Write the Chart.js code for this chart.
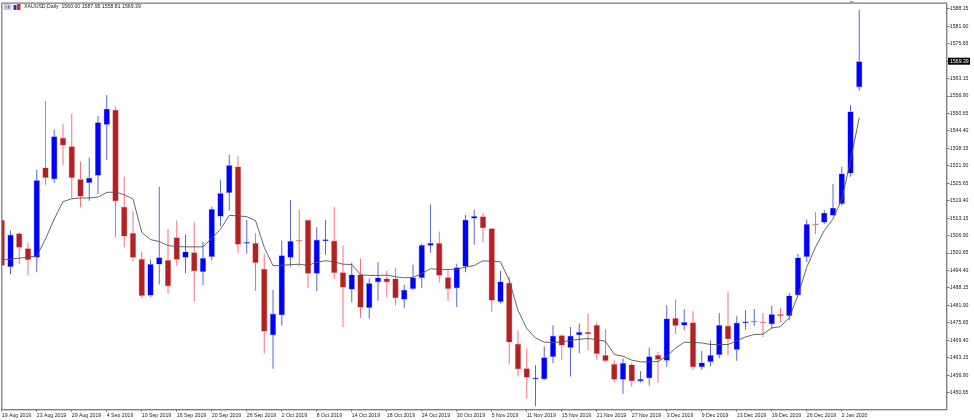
<!DOCTYPE html>
<html>

<head>
  <title>XAUUSD Daily</title>
  <script src="https://cdnjs.cloudflare.com/ajax/libs/Chart.js/4.4.1/chart.umd.min.js"></script>
  <style>
    body { margin: 0; background: #fff; }
    canvas { display: block; }
  </style>
</head>

<body>
  <canvas id="chart" width="974" height="420"></canvas>

  <script>
    // Daily candles, one per trading day from 19 Aug 2019
    const opens = [
      1512.51, 1495.58, 1507.72, 1502.37, 1498.94, 1531.29, 1527.01, 1542.01, 1538.94, 1527.15,
      1525.72, 1528.33, 1546.54, 1552.01, 1517.26, 1507.87, 1498.58, 1485.37, 1496.54, 1498.22,
      1506.29, 1498.94, 1500.94, 1493.79, 1499.15, 1513.69, 1522.15, 1531.65, 1503.94, 1504.29,
      1495.01, 1471.19, 1478.33, 1498.94, 1505.22, 1512.51, 1493.22, 1504.87, 1505.12, 1493.79,
      1487.51, 1492.97, 1480.94, 1490.12, 1491.54, 1491.54, 1483.94, 1487.72, 1491.65, 1503.22,
      1504.29, 1492.01, 1487.97, 1495.72, 1512.97, 1513.79, 1509.51, 1483.08, 1490.01, 1468.22,
      1459.40, 1455.37, 1455.37, 1463.33, 1471.19, 1466.65, 1471.19, 1472.37, 1474.87, 1464.15,
      1460.94, 1455.22, 1460.72, 1454.65, 1455.72, 1464.15, 1462.01, 1477.37, 1474.65, 1475.83,
      1459.65, 1461.54, 1464.04, 1474.65, 1465.94, 1475.47, 1475.72, 1475.83, 1475.12, 1478.79,
      1478.08, 1485.47, 1499.15, 1511.08, 1511.54, 1514.04, 1518.22, 1529.15, 1560.00
    ];
    const highs = [
      1512.90, 1508.69, 1508.08, 1504.51, 1530.37, 1555.12, 1544.87, 1547.01, 1550.58, 1533.33,
      1534.87, 1549.76, 1557.26, 1553.08, 1527.97, 1515.58, 1501.08, 1498.33, 1524.40, 1509.15,
      1512.26, 1507.26, 1511.65, 1504.65, 1517.26, 1526.90, 1535.83, 1535.37, 1512.51, 1507.72,
      1500.37, 1487.51, 1505.12, 1519.65, 1516.08, 1512.60, 1509.87, 1512.51, 1517.26, 1503.33,
      1497.15, 1498.58, 1491.65, 1497.37, 1494.29, 1495.22, 1489.29, 1496.44, 1503.94, 1518.08,
      1508.33, 1494.76, 1496.79, 1514.29, 1516.19, 1515.01, 1509.60, 1494.29, 1492.15, 1472.87,
      1466.44, 1460.47, 1467.26, 1474.76, 1471.44, 1474.15, 1475.37, 1478.94, 1475.72, 1473.33,
      1462.26, 1462.87, 1461.44, 1458.33, 1466.79, 1465.22, 1481.90, 1484.04, 1480.47, 1479.76,
      1465.58, 1469.29, 1479.15, 1486.90, 1477.97, 1480.12, 1480.58, 1479.29, 1481.79, 1481.08,
      1486.29, 1500.37, 1512.62, 1515.37, 1516.08, 1525.37, 1531.54, 1553.69, 1587.95
    ];
    const lows = [
      1495.60, 1493.08, 1496.65, 1492.62, 1493.79, 1525.12, 1525.83, 1532.01, 1520.37, 1517.01,
      1519.40, 1521.79, 1533.94, 1506.29, 1502.72, 1497.72, 1484.51, 1485.00, 1489.40, 1486.08,
      1496.08, 1493.44, 1483.44, 1489.15, 1497.97, 1510.37, 1515.83, 1500.58, 1500.37, 1487.01,
      1464.65, 1459.15, 1474.65, 1495.83, 1495.83, 1488.08, 1487.01, 1500.01, 1491.29, 1474.15,
      1482.97, 1477.37, 1477.15, 1483.58, 1484.87, 1481.90, 1480.94, 1487.40, 1488.08, 1500.72,
      1490.22, 1483.58, 1481.29, 1493.79, 1503.58, 1504.51, 1479.51, 1482.62, 1460.72, 1456.44,
      1448.58, 1445.72, 1455.20, 1461.19, 1462.37, 1456.44, 1464.76, 1465.94, 1462.37, 1461.65,
      1454.29, 1450.22, 1452.72, 1454.29, 1453.08, 1454.15, 1459.87, 1471.65, 1472.97, 1458.69,
      1458.69, 1460.12, 1462.97, 1464.15, 1462.01, 1473.22, 1474.51, 1470.58, 1473.58, 1475.94,
      1476.54, 1485.20, 1497.37, 1507.51, 1511.08, 1514.04, 1517.62, 1527.97, 1558.81
    ];
    const closes = [
      1496.08, 1507.26, 1502.51, 1498.08, 1526.79, 1527.51, 1542.51, 1539.15, 1527.51, 1520.83,
      1527.62, 1547.51, 1552.37, 1519.15, 1506.54, 1498.94, 1485.22, 1496.79, 1499.15, 1488.69,
      1498.22, 1501.19, 1494.04, 1498.94, 1516.44, 1522.15, 1532.15, 1503.58, 1504.65, 1497.01,
      1472.51, 1478.94, 1499.87, 1505.01, 1504.76, 1493.22, 1505.47, 1505.58, 1493.44, 1488.22,
      1492.97, 1481.08, 1489.87, 1491.90, 1490.12, 1484.40, 1487.51, 1491.90, 1503.58, 1504.29,
      1492.51, 1487.72, 1495.58, 1512.62, 1513.94, 1509.51, 1483.58, 1490.47, 1468.58, 1458.94,
      1455.94, 1456.08, 1463.33, 1471.08, 1467.51, 1471.08, 1472.37, 1471.54, 1464.40, 1461.90,
      1455.22, 1461.29, 1454.65, 1455.58, 1463.69, 1462.37, 1477.26, 1474.51, 1475.94, 1459.65,
      1461.44, 1464.15, 1474.87, 1469.76, 1475.72, 1476.19, 1476.08, 1475.47, 1478.79, 1478.08,
      1485.47, 1499.04, 1511.08, 1510.72, 1515.12, 1516.90, 1529.15, 1551.44, 1569.39
    ];
    const maValues = [
      1498.08, 1498.58, 1498.79, 1499.15, 1499.51, 1505.72, 1512.87, 1519.04, 1520.12, 1520.37,
      1520.37, 1520.72, 1522.37, 1522.51, 1521.54, 1520.01, 1508.08, 1505.47, 1504.76, 1503.33,
      1502.97, 1502.87, 1502.87, 1502.87, 1505.94, 1509.15, 1514.15, 1513.94, 1513.69, 1512.26,
      1502.72, 1496.08, 1496.29, 1496.44, 1496.65, 1496.19, 1497.37, 1497.87, 1497.51, 1496.65,
      1496.54, 1492.87, 1492.62, 1492.62, 1492.72, 1492.15, 1491.79, 1491.90, 1493.33, 1495.01,
      1494.76, 1494.76, 1494.87, 1495.58, 1496.19, 1497.87, 1497.72, 1497.51, 1490.83, 1480.12,
      1473.58, 1470.22, 1468.69, 1468.58, 1468.79, 1469.29, 1469.76, 1470.01, 1469.65, 1469.04,
      1464.29, 1463.69, 1462.26, 1461.65, 1461.65, 1461.79, 1463.69, 1466.54, 1468.69, 1468.58,
      1468.44, 1467.87, 1467.87, 1467.87, 1469.15, 1470.58, 1471.44, 1471.54, 1473.79, 1474.29,
      1477.51, 1485.47, 1495.58, 1502.72, 1508.69, 1512.87, 1519.76, 1533.69, 1549.15
    ];

    // Labels sit on every 4th candle
    const dateLabels = [
      '19 Aug 2019', '23 Aug 2019', '29 Aug 2019', '4 Sep 2019', '10 Sep 2019',
      '16 Sep 2019', '20 Sep 2019', '26 Sep 2019', '2 Oct 2019', '8 Oct 2019',
      '14 Oct 2019', '18 Oct 2019', '24 Oct 2019', '30 Oct 2019', '5 Nov 2019',
      '11 Nov 2019', '15 Nov 2019', '21 Nov 2019', '27 Nov 2019', '3 Dec 2019',
      '9 Dec 2019', '13 Dec 2019', '19 Dec 2019', '26 Dec 2019', '2 Jan 2020'
    ];
    const priceTicks = [
      1588.15, 1581.90, 1575.65, 1569.40, 1563.15, 1556.90, 1550.65, 1544.40,
      1538.15, 1531.90, 1525.65, 1519.40, 1513.15, 1506.90, 1500.65, 1494.40,
      1488.15, 1481.90, 1475.65, 1469.40, 1463.15, 1456.90, 1450.65
    ];
    const headerText = 'XAUUSD,Daily  1560.00 1587.95 1558.81 1569.39';

    const smallFont = { family: '"Liberation Sans", Arial, sans-serif', size: 5.2 };
    const isUp = (i) => closes[i] >= opens[i];

    // Frame, header text and the black last-price tag (chart.js has no option for these)
    const terminalDecor = {
      id: 'terminalDecor',
      afterDraw(chart) {
        const { ctx, chartArea: a } = chart;
        ctx.save();
        ctx.strokeStyle = '#808080';
        ctx.lineWidth = 1.3;
        ctx.strokeRect(a.left, a.top, a.right - a.left, a.bottom - a.top);

        // mini toolbar icons
        ctx.fillStyle = '#c8cde8';
        ctx.fillRect(3.5, 4, 8, 6);
        ctx.fillStyle = '#e08a9a';
        ctx.fillRect(5.5, 5.5, 1.5, 3);
        ctx.fillStyle = '#6a78c8';
        ctx.fillRect(8, 5.5, 1.5, 3);
        ctx.fillStyle = '#2233cc';
        ctx.fillRect(13.5, 5, 3, 5);
        ctx.fillStyle = '#c83040';
        ctx.fillRect(17, 4, 3.5, 6);

        ctx.font = `${smallFont.size}px ${smallFont.family}`;
        ctx.fillStyle = '#222';
        ctx.textBaseline = 'middle';
        ctx.fillText(headerText, 24, 7);

        // shift marker on the top edge
        ctx.fillStyle = '#a0a0a0';
        ctx.beginPath();
        ctx.moveTo(849, 1);
        ctx.lineTo(854, 1);
        ctx.lineTo(851.5, 4);
        ctx.fill();

        const lastClose = closes[closes.length - 1];
        const tagY = chart.scales.y.getPixelForValue(lastClose);
        ctx.fillStyle = '#000';
        ctx.fillRect(948, tagY - 3.5, 22, 7);
        ctx.fillStyle = '#fff';
        ctx.fillText(lastClose.toFixed(2), 950, tagY);
        ctx.restore();
      }
    };

    const candleColor = (ctx, up, down) => (isUp(ctx.dataIndex) ? up : down);

    new Chart(document.getElementById('chart').getContext('2d'), {
      type: 'bar',
      data: {
        datasets: [
          {
            type: 'line',
            label: 'MA',
            data: maValues.map((v, i) => ({ x: i, y: v })),
            borderColor: '#555',
            borderWidth: 0.9,
            pointRadius: 0,
            tension: 0,
            order: 0,
          },
          {
            label: 'Body',
            data: opens.map((o, i) => ({ x: i, y: [o, closes[i]] })),
            backgroundColor: (ctx) => candleColor(ctx, '#0000ff', '#b22222'),
            borderColor: (ctx) => candleColor(ctx, '#9aa4e6', '#f28a96'),
            borderWidth: 0.6,
            borderSkipped: false,
            grouped: false,
            barPercentage: 1,
            maxBarThickness: 6.4,
            minBarLength: 1.5,
            order: 1,
          },
          {
            label: 'Wick',
            data: lows.map((l, i) => ({ x: i, y: [l, highs[i]] })),
            backgroundColor: (ctx) => candleColor(ctx, '#5a68cc', '#f5707f'),
            borderWidth: 0,
            grouped: false,
            barPercentage: 1,
            maxBarThickness: 1,
            order: 2,
          },
        ],
      },
      options: {
        responsive: false,
        animation: false,
        layout: { padding: { left: 1.75, top: 1.75 } },
        plugins: { legend: { display: false }, tooltip: { enabled: false } },
        scales: {
          x: {
            type: 'linear',
            offset: false,
            min: 0,
            max: 108,
            afterFit: (s) => { s.height = 10.25; },
            afterBuildTicks: (s) => {
              s.ticks = dateLabels.map((_, i) => ({ value: i * 4 }));
            },
            grid: { offset: false, drawOnChartArea: false, color: '#808080', tickLength: 2 },
            border: { color: '#808080' },
            ticks: {
              font: smallFont,
              color: '#222',
              align: 'start',
              padding: 1,
              maxRotation: 0,
              autoSkip: false,
              callback: (v) => dateLabels[v / 4],
            },
          },
          y: {
            position: 'right',
            min: 1444.49,
            max: 1590.2,
            afterFit: (s) => { s.width = 27.25; },
            afterBuildTicks: (s) => {
              s.ticks = priceTicks.map((v) => ({ value: v }));
            },
            grid: { drawOnChartArea: false, color: '#808080', tickLength: 3 },
            border: { color: '#808080' },
            ticks: {
              font: smallFont,
              color: '#222',
              padding: 0,
              autoSkip: false,
              callback: (v) => v.toFixed(2),
            },
          },
        },
      },
      plugins: [terminalDecor],
    });
  </script>
</body>

</html>
